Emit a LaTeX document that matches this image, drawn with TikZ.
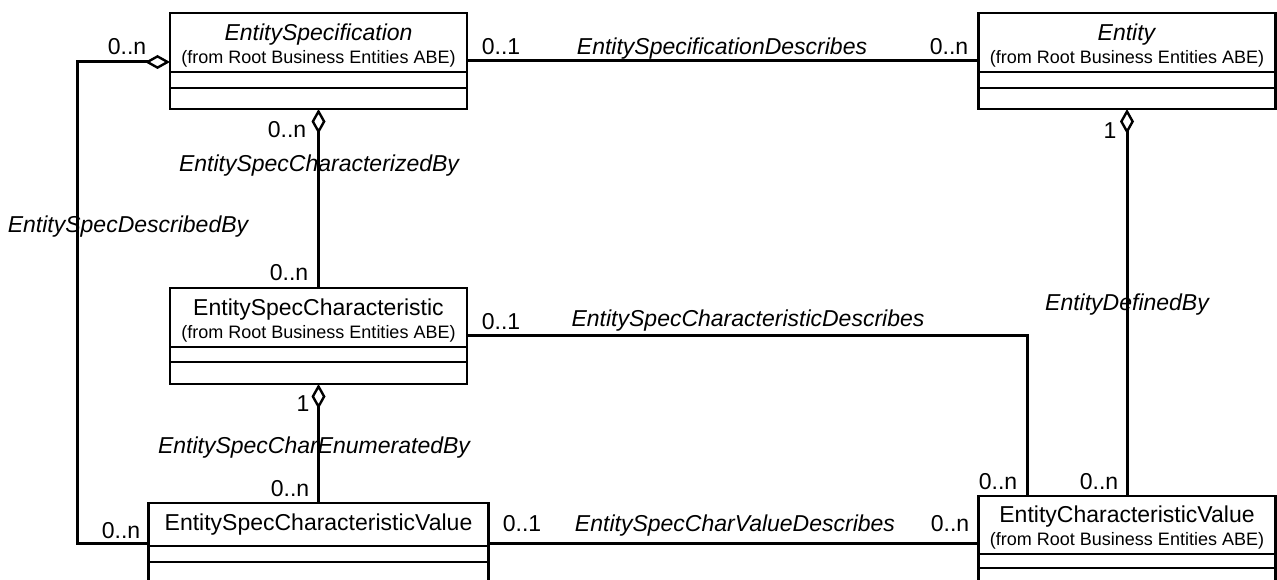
\documentclass[tikz,border=0pt]{standalone}
\usepackage{fontspec}
\setmainfont{Liberation Sans}
\usetikzlibrary{arrows.meta,positioning}
\newcommand{\fromfont}{\fontsize{18}{22}\selectfont}
\newcommand{\topstrut}{\rule{0pt}{22pt}}
\begin{document}
\begin{tikzpicture}[x=1pt, y=-1pt, node distance=0pt, every node/.style={inner sep=0pt, outer sep=0pt}]  % y grows downwards

        % Styles for nodes
        \tikzstyle{head} = [draw, line width=2.4pt, minimum width=297pt, align=center, font=\fontsize{23}{28}\selectfont]
        \tikzstyle{comp} = [draw, line width=2.4pt, minimum width=297pt]
        \tikzstyle{lbl} = [font=\fontsize{23}{28}\selectfont, text height=16.5pt, text depth=0pt]
        \tikzstyle{role} = [lbl, font=\fontsize{23}{28}\selectfont\itshape]
        \tikzstyle{assoc} = [line width=3pt]
        \tikzstyle{agg} = [line width=3pt, {Diamond[open, length=25pt, width=14pt, line width=2.4pt]}-]

        \useasboundingbox (0,0) rectangle (1277,580);
        \clip (0,0) rectangle (1277,580);

        % Nodes
        \node[head, minimum height=59pt] (es) at (318.5,42.5) {\topstrut\textit{EntitySpecification}\\[-5pt]\fromfont (from Root Business Entities ABE)};
        \node[comp, minimum height=16pt, below=of es] (es1) {};
        \node[comp, minimum height=21pt, below=of es1] (es2) {};

        \node[head, minimum height=59pt] (ent) at (1127,42.5) {\topstrut\textit{Entity}\\[-5pt]\fromfont (from Root Business Entities ABE)};
        \node[comp, minimum height=16pt, below=of ent] (ent1) {};
        \node[comp, minimum height=21pt, below=of ent1] (ent2) {};

        \node[head, minimum height=59pt] (esc) at (318.5,317.5) {\topstrut EntitySpecCharacteristic\\[-5pt]\fromfont (from Root Business Entities ABE)};
        \node[comp, minimum height=15pt, below=of esc] (esc1) {};
        \node[comp, minimum height=22pt, below=of esc1] (esc2) {};

        \node[head, minimum width=340pt, minimum height=43pt] (escv) at (318.5,524.5) {EntitySpecCharacteristicValue};
        \node[comp, minimum width=340pt, minimum height=16pt, below=of escv] (escv1) {};
        \node[comp, minimum width=340pt, minimum height=40pt, below=of escv1] (escv2) {};

        \node[head, minimum height=58pt] (ecv) at (1127,525) {\topstrut EntityCharacteristicValue\\[-5pt]\fromfont (from Root Business Entities ABE)};
        \node[comp, minimum height=14pt, below=of ecv] (ecv1) {};
        \node[comp, minimum height=40pt, below=of ecv1] (ecv2) {};

        % Arrows
        \draw[assoc] ([yshift=-18.5pt]es.east) -- ([yshift=-18.5pt]ent.west);
        \draw[agg] ([yshift=-19.5pt]es.west) -- ++(-93,0) |- ([yshift=-18.5pt]escv.west);
        \draw[agg] (es2.south) -- (esc.north);
        \draw[assoc] ([yshift=-17.5pt]esc.east) -| ([xshift=-100pt]ecv.north);
        \draw[agg] (esc2.south) -- (escv.north);
        \draw[assoc] ([yshift=-18.5pt]escv.east) -- ([yshift=-18.5pt]escv.east -| ecv.west);
        \draw[agg] (ent2.south) -- (ecv.north);

        % Labels
        \node[lbl] (m0) at (127,46) {0..n};
        \node[lbl] (m1) at (501,46) {0..1};
        \node[role] (r0) at (722,46) {EntitySpecificationDescribes};
        \node[lbl] (m2) at (949,46) {0..n};
        \node[lbl] (m3) at (287,129) {0..n};
        \node[role] (r1) at (319,163) {EntitySpecCharacterizedBy};
        \node[lbl] (m4) at (1110,130) {1};
        \node[role] (r2) at (128,224) {EntitySpecDescribedBy};
        \node[lbl] (m5) at (289,272) {0..n};
        \node[lbl] (m6) at (501,321) {0..1};
        \node[role] (r3) at (748,318) {EntitySpecCharacteristicDescribes};
        \node[role] (r4) at (1127,302) {EntityDefinedBy};
        \node[lbl] (m7) at (303,403) {1};
        \node[role] (r5) at (314,445) {EntitySpecCharEnumeratedBy};
        \node[lbl] (m8) at (290,488) {0..n};
        \node[lbl] (m9) at (998,481) {0..n};
        \node[lbl] (m10) at (1099,481) {0..n};
        \node[lbl] (m11) at (121,530) {0..n};
        \node[lbl] (m12) at (522,523) {0..1};
        \node[role] (r6) at (735,523) {EntitySpecCharValueDescribes};
        \node[lbl] (m13) at (950,523) {0..n};

\end{tikzpicture}
\end{document}
